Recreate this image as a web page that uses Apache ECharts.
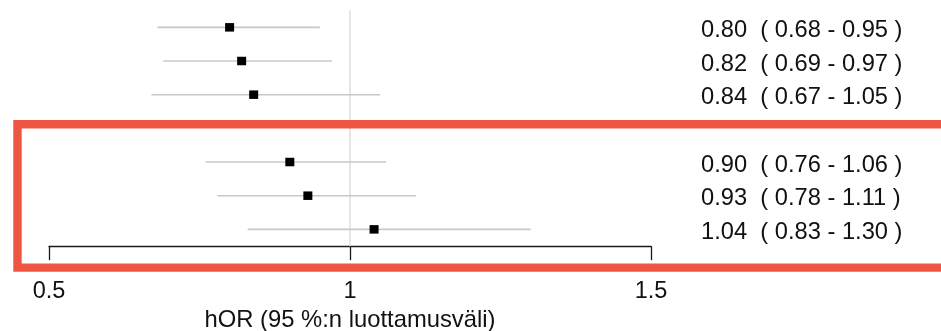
<!DOCTYPE html>
<html>
<head>
<meta charset="utf-8">
<script src="https://cdn.jsdelivr.net/npm/echarts@6/dist/echarts.min.js"></script>
<style>
  html, body { margin: 0; padding: 0; background: #fff; }
  #chart { width: 941px; height: 331px; }
</style>
</head>
<body>
<div id="chart"></div>
<script>
// Hazard odds ratios with 95 % confidence limits, one row per model
const oddsRatio = [0.80, 0.82, 0.84, 0.90, 0.93, 1.04];
const ciLower   = [0.68, 0.69, 0.67, 0.76, 0.78, 0.83];
const ciUpper   = [0.95, 0.97, 1.05, 1.06, 1.11, 1.30];
// Row slot of each estimate (slot 3 is left empty to separate the two groups)
const rowSlot   = [0, 1, 2, 4, 5, 6];
const slotCount = 7;
const xTicks    = [0.5, 1, 1.5];
const axisTitle = 'hOR (95 %:n luottamusväli)';

const FONT = 'Liberation Sans, Arial, Helvetica, sans-serif';

// Right-hand text column: "estimate  ( lower - upper )"
const slotLabels = new Array(slotCount).fill('');
rowSlot.forEach((s, i) => {
  slotLabels[s] = oddsRatio[i].toFixed(2) + '  ( ' + ciLower[i].toFixed(2) + ' - ' + ciUpper[i].toFixed(2) + ' )';
});
const slotNames = slotLabels.map((t, i) => 'slot' + i);

const ciData = rowSlot.map((s, i) => [ciLower[i], ciUpper[i], s]);
const pointData = rowSlot.map((s, i) => [oddsRatio[i], s]);

const chart = echarts.init(document.getElementById('chart'), null, { renderer: 'canvas' });

chart.setOption({
  animation: false,
  backgroundColor: '#ffffff',
  grid: {
    left: 49, right: 290, top: 10.5, height: 235.7,
    containLabel: false, outerBoundsMode: 'none'
  },
  xAxis: {
    type: 'value',
    min: xTicks[0],
    max: xTicks[xTicks.length - 1],
    interval: 0.5,
    axisLine: { show: true, onZero: false, lineStyle: { color: '#1a1a1a', width: 1.3 } },
    axisTick: { show: true, inside: false, length: 14, lineStyle: { color: '#1a1a1a', width: 1.3 } },
    axisLabel: {
      show: true, margin: 33, color: '#111', fontSize: 23.5, fontFamily: FONT,
      formatter: v => String(v)
    },
    splitLine: { show: false },
    name: axisTitle,
    nameLocation: 'middle',
    nameGap: 57,
    nameTextStyle: { color: '#111', fontSize: 23.8, fontFamily: FONT }
  },
  yAxis: [
    {
      // data axis: one slot per row, top to bottom
      type: 'value',
      min: -0.5,
      max: slotCount - 0.5,
      inverse: true,
      show: false
    },
    {
      // text column on the right side
      type: 'category',
      data: slotNames,
      inverse: true,
      position: 'right',
      boundaryGap: true,
      axisLine: { show: false },
      axisTick: { show: false },
      splitLine: { show: false },
      axisLabel: {
        show: true, margin: 50, align: 'left', color: '#111', fontSize: 23.7, fontFamily: FONT,
        formatter: (v, idx) => slotLabels[idx] ? '{t|' + slotLabels[idx] + '}' : '',
        rich: {
          t: { color: '#111', fontSize: 23.7, fontFamily: FONT, padding: [6, 0, 0, 0] }
        }
      }
    }
  ],
  series: [
    {
      // confidence interval whiskers
      type: 'custom',
      coordinateSystem: 'cartesian2d',
      yAxisIndex: 0,
      encode: { x: [0, 1], y: 2 },
      data: ciData,
      renderItem: (params, api) => {
        const a = api.coord([api.value(0), api.value(2)]);
        const b = api.coord([api.value(1), api.value(2)]);
        return {
          type: 'line',
          shape: { x1: a[0], y1: a[1], x2: b[0], y2: b[1] },
          style: { stroke: '#c8c8c8', lineWidth: 1.6 }
        };
      },
      z: 2
    },
    {
      // reference line at hOR = 1
      type: 'line',
      yAxisIndex: 0,
      data: [[1, -0.5], [1, slotCount - 0.5]],
      symbol: 'none',
      lineStyle: { color: '#dcdcdc', width: 1.4 },
      z: 1
    },
    {
      // point estimates
      type: 'scatter',
      yAxisIndex: 0,
      data: pointData,
      symbol: 'rect',
      symbolSize: [9, 8.5],
      itemStyle: { color: '#000', opacity: 1 },
      z: 4
    }
  ],
  graphic: [
    {
      type: 'rect',
      z: 100,
      shape: { x: 17.5, y: 124.2, width: 1000, height: 143.4 },
      style: { fill: 'none', stroke: '#ef5641', lineWidth: 8.4 }
    }
  ]
});
</script>
</body>
</html>
